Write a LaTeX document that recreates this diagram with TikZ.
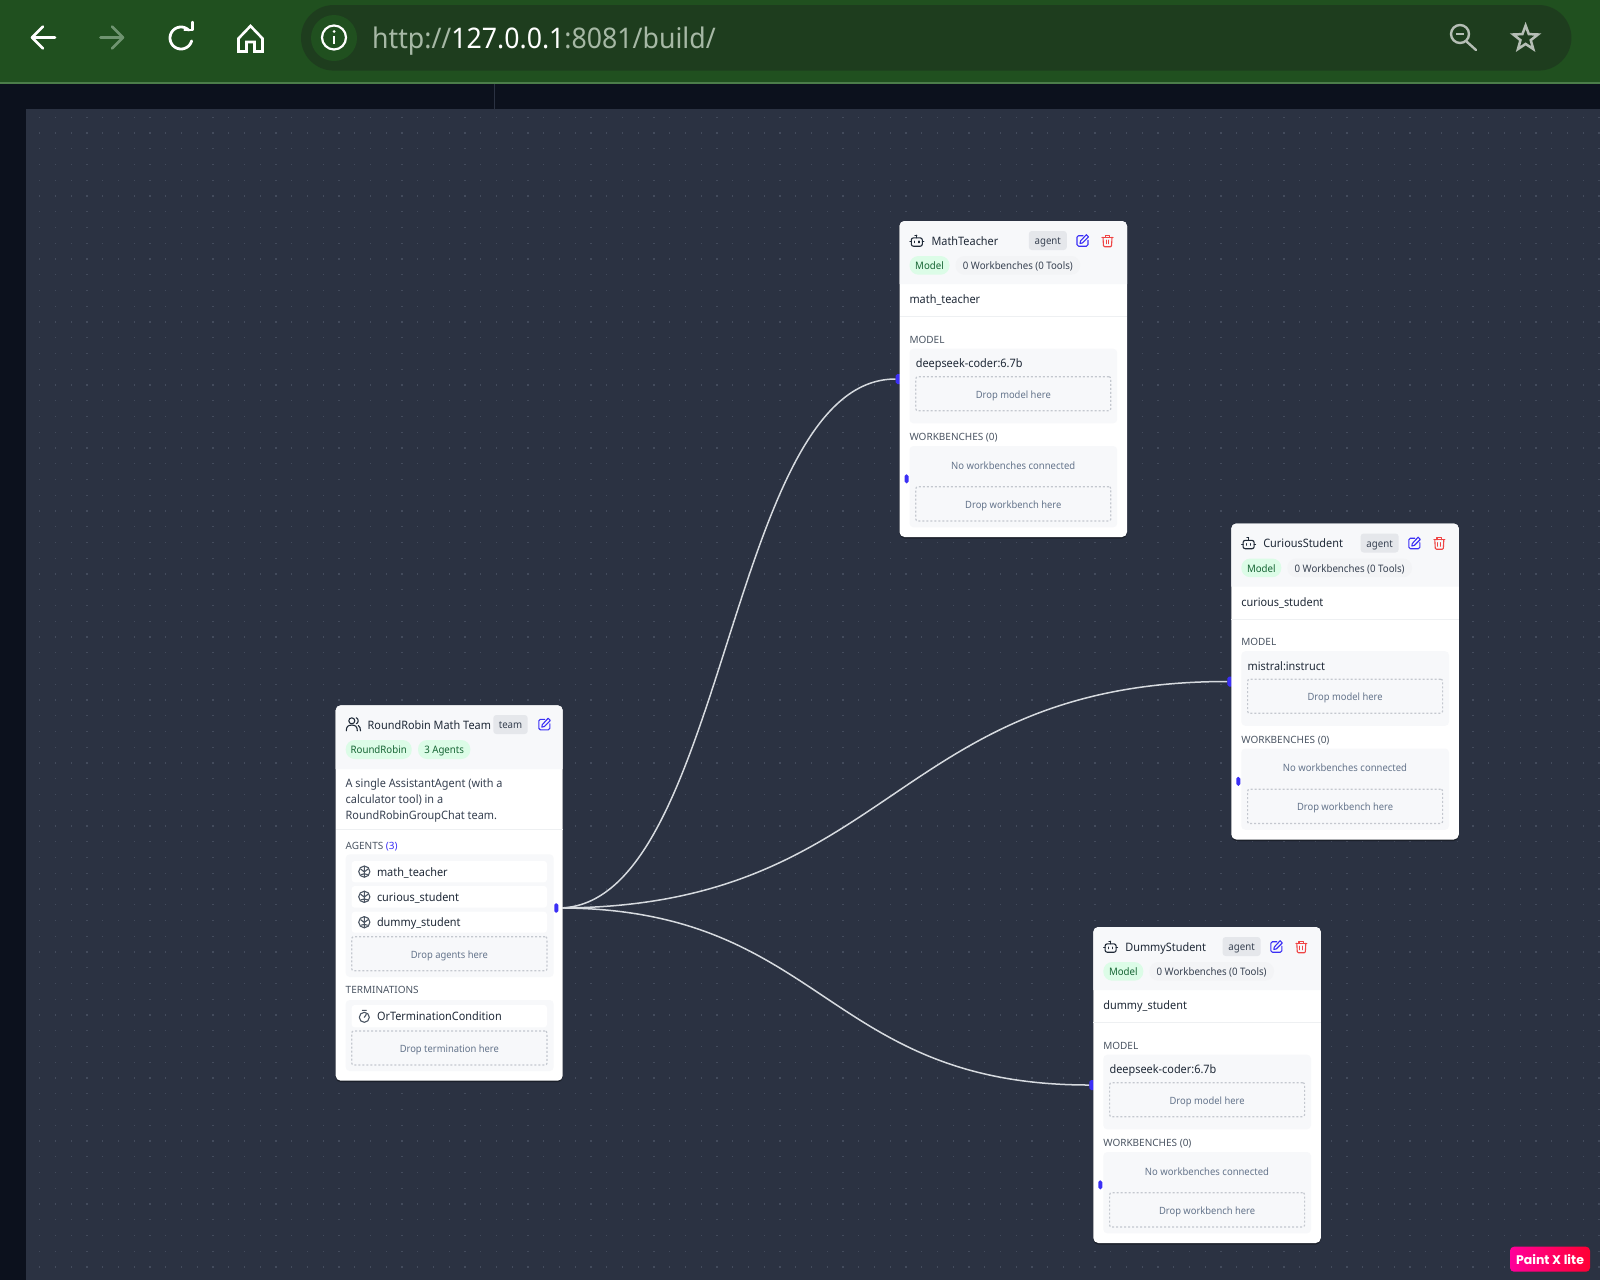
\documentclass[tikz,border=0pt]{standalone}
\usepackage{fontspec}
\setmainfont{Noto Sans}[FakeStretch=0.94]
\newfontfamily\secfont{Noto Sans}
\newfontfamily\pxfont{Poppins}
\usetikzlibrary{shapes.geometric}
\pgfdeclarelayer{bg}\pgfdeclarelayer{wires}\pgfsetlayers{bg,wires,main}
\definecolor{barG}{HTML}{20501F}
\definecolor{urlG}{HTML}{1E3D1E}
\definecolor{barLine}{HTML}{4C7D4A}
\definecolor{pageD}{HTML}{0C111D}
\definecolor{canvasC}{HTML}{2B3242}
\definecolor{dotC}{HTML}{434B5C}
\definecolor{hdrC}{HTML}{F7F8FA}
\definecolor{boxC}{HTML}{F7F8FA}
\definecolor{inkC}{HTML}{1F2937}
\definecolor{descC}{HTML}{374151}
\definecolor{secC}{HTML}{4B5563}
\definecolor{dropC}{HTML}{64748B}
\definecolor{dashC}{HTML}{C4C8CF}
\definecolor{sepC}{HTML}{EEF0F2}
\definecolor{badgeC}{HTML}{E5E7EB}
\definecolor{greenP}{HTML}{DCFCE7}
\definecolor{greenT}{HTML}{166534}
\definecolor{greyP}{HTML}{F3F4F6}
\definecolor{blueC}{HTML}{3B2FF5}
\definecolor{redC}{HTML}{EF4444}
\definecolor{urlT}{HTML}{A6B8A5}
\definecolor{fwdC}{HTML}{6F9470}
\definecolor{toolC}{HTML}{B5BEB5}
\definecolor{wireC}{HTML}{D6DADF}
\definecolor{pxL}{HTML}{FF009A}
\definecolor{pxR}{HTML}{FF0033}
\tikzset{
  panelbase/.style={anchor=north west,inner sep=0pt,outer sep=0pt},
  txt/.style={anchor=west,inner sep=0pt,outer sep=0pt,text=inkC,font=\fontsize{11.6}{14}\selectfont,text height=11pt,text depth=2pt},
  small/.style={txt,text=descC,font=\fontsize{10.1}{12}\selectfont,text height=10.4pt,text depth=2pt},
  sect/.style={txt,text=secC,font=\secfont\fontsize{10}{12}\selectfont,text height=9pt,text depth=2pt},
  centred/.style={text height=9.8pt,text depth=1pt},
  drop/.style={panelbase,centred,draw=dashC,line width=1.2pt,dash pattern=on 2pt off 2pt,rounded corners=2pt,text=dropC,font=\fontsize{10}{12}\selectfont},
  inbox/.style={panelbase,fill=boxC,rounded corners=4pt},
  item/.style={panelbase,fill=white,rounded corners=3pt},
  pill/.style={panelbase,centred,rounded corners=9pt,font=\fontsize{10.3}{12}\selectfont},
  gpill/.style={pill,fill=greenP,text=greenT},
  npill/.style={pill,fill=greyP,text=descC},
  badge/.style={panelbase,centred,fill=badgeC,rounded corners=3pt,text=descC,font=\fontsize{10.3}{12}\selectfont},
  cardbody/.style={panelbase,fill=white,rounded corners=5pt},
  handle/.style={panelbase,fill=blueC,rounded corners=1.8pt},
  wire/.style={draw=wireC,line width=1.5pt},
  icon/.style={line width=1.1pt,line cap=round,line join=round},
  chrome/.style={line width=2.8pt,line cap=round,line join=round}
}
\newcommand\panel[7][]{\node[panelbase,#1,minimum width={(#5-#3)*1pt},minimum height={(#6-#4)*1pt}] (#2) at (#3,#4) {#7};}
\newcommand\lbl[5][]{\node[txt,#1] (#2) at (#3,#4) {#5};}
\newcommand\icoRobot[2]{\begin{scope}[shift={(#1,#2)},icon,draw=inkC]
  \draw[rounded corners=2pt] (-5.5,-2.8) rectangle (5.5,5.5);
  \draw (0,-2.8)--(0,-5.5) (-1.8,-5.5)--(0,-5.5) (-7,1.2)--(-5.5,1.2) (5.5,1.2)--(7,1.2) (-2.2,0.4)--(-2.2,2) (2.2,0.4)--(2.2,2);
\end{scope}}
\newcommand\icoEdit[2]{\begin{scope}[shift={(#1,#2)},icon,draw=blueC]
  \draw[rounded corners=1.5pt] (0.5,-5)--(-5.5,-5)--(-5.5,5.5)--(5.5,5.5)--(5.5,-0.5);
  \draw (3.8,-6)--(6,-3.8)--(0,2.2)--(-2.5,2.8)--(-2,0.3)--cycle;
\end{scope}}
\newcommand\icoTrash[2]{\begin{scope}[shift={(#1,#2)},icon,draw=redC]
  \draw (-5.5,-3.5)--(5.5,-3.5) (-2.3,-3.5)--(-2.3,-5.5)--(2.3,-5.5)--(2.3,-3.5);
  \draw[rounded corners=1pt] (-4.5,-3.5)--(-4,6)--(4,6)--(4.5,-3.5);
  \draw (-1.4,-0.5)--(-1.4,3) (1.4,-0.5)--(1.4,3);
\end{scope}}
\newcommand\icoUsers[2]{\begin{scope}[shift={(#1,#2)},icon,draw=inkC]
  \draw (-1.5,-3.5) circle[radius=3pt];
  \draw (-7,6.5) .. controls (-7,2) and (-5,0.8) .. (-1.5,0.8) .. controls (2,0.8) and (4,2) .. (4,6.5);
  \draw (3,-6.5) .. controls (5.5,-5.5) and (5.5,-1.5) .. (3,-0.5) (5,1.2) .. controls (6.5,2) and (7.2,4) .. (7.2,6.5);
\end{scope}}
\newcommand\icoBrain[2]{\begin{scope}[shift={(#1,#2)},icon,draw=secC]
  \draw (0,0) circle[radius=5.6pt];
  \draw (0,-5.6)--(0,5.6) (-3.6,-2.5)--(0,0.3) (3.6,-2.5)--(0,0.3) (-3.2,3)--(0,2.2) (3.2,3)--(0,2.2);
\end{scope}}
\newcommand\icoTimer[2]{\begin{scope}[shift={(#1,#2)},icon,draw=secC]
  \draw (0,1) circle[radius=5pt];
  \draw (-2,-6)--(2,-6) (0,1)--(2,-2);
\end{scope}}
\newcommand\agentcard[6]{\begin{scope}[shift={(#2,#3)}]
  \panel[handle]{#1-in}{-4}{153}{3}{163}{}
  \fill[black,opacity=.35,rounded corners=5pt] (0,1.5) rectangle (227.5,317.5);
  \panel[cardbody]{#1}{0}{0}{227.5}{316}{}
  \fill[hdrC] (0,63) {[rounded corners=5pt] -- (0,0) -- (227.5,0)} -- (227.5,63) -- cycle;
  \icoRobot{17.3}{19.7}
  \lbl{#1-title}{32}{19.7}{#4}
  \panel[badge]{#1-kind}{129.3}{10}{167.3}{29}{agent}
  \icoEdit{183}{19.7}
  \icoTrash{208}{19.7}
  \panel[gpill]{#1-model-pill}{10}{35}{50}{53.7}{Model}
  \panel[npill]{#1-wb-pill}{56}{35}{180.7}{53.7}{0 Workbenches (0 Tools)}
  \lbl{#1-id}{10}{78.3}{#5}
  \fill[sepC] (0,95.2) rectangle (227.5,96.2);
  \lbl[sect]{#1-model-h}{10}{118.7}{MODEL}
  \panel[inbox]{#1-model-box}{10}{127.7}{217.7}{202.3}{}
  \lbl{#1-model-name}{16.3}{142.3}{#6}
  \panel[drop]{#1-model-drop}{16.3}{155.7}{211.3}{189.7}{Drop model here}
  \lbl[sect]{#1-wb-h}{10}{216}{WORKBENCHES (0)}
  \panel[inbox]{#1-wb-box}{10}{225}{217.7}{306.3}{}
  \node[small,anchor=center,text=dropC] (#1-wb-none) at (113.7,244) {No workbenches connected};
  \panel[drop]{#1-wb-drop}{16.3}{265.7}{211.3}{300}{Drop workbench here}
  \panel[handle]{#1-wb-in}{5}{253.3}{9}{262.3}{}
\end{scope}}
\begin{document}
\begin{tikzpicture}[x=1pt,y=-1pt]
\useasboundingbox (0,0) rectangle (1600,1280);
\begin{pgfonlayer}{bg}
  \fill[pageD] (0,0) rectangle (1600,1280);
  \fill[canvasC] (25.5,108.7) rectangle (1600,1280);
  \fill[canvasC] (493.6,84) rectangle (494.6,108.7);
  \foreach \i in {0,...,99}{\foreach \j in {0,...,74}{
    \fill[dotC] ({39.2+15.75*\i},{116.7+15.75*\j}) rectangle ++(1.2,1.2);}}
  \fill[barG] (0,0) rectangle (1600,82.5);
  \fill[barLine] (0,82.3) rectangle (1600,84);
\end{pgfonlayer}
% browser chrome
\panel[fill=urlG,rounded corners=32.8pt]{urlbar}{301}{5}{1571.4}{70.6}{}
\node[circle,fill=barG,minimum size=46pt,inner sep=0pt] (infobg) at (334,38) {};
\draw[white,line width=2.2pt] (334,37.5) circle[radius=12pt];
\fill[white] (334,31.5) circle[radius=1.5pt];
\draw[white,line width=2pt] (334,35.5)--(334,44);
\node[anchor=west,inner sep=0pt,font=\fontsize{28.4}{30}\selectfont,text=urlT,text height=26pt,text depth=6pt] (url) at (372,38) {http://\textcolor{white}{127.0.0.1}:8081/build/};
\draw[chrome,white] (55,37.5)--(32,37.5) (43,26.5)--(32,37.5)--(43,48.5);
\draw[chrome,fwdC] (100.5,37.5)--(123,37.5) (112,26.5)--(123,37.5)--(112,48.5);
\draw[chrome,white] plot[domain=15:315,samples=40] ({181+11*cos(\x)},{38+11*sin(\x)});
\draw[chrome,white,line width=2.4pt] (192.5,22)--(192.5,30)--(184.5,30);
\draw[white,line width=2.6pt,line join=miter] (250.5,26)--(262.5,38.5)--(262.5,51.5)--(254.5,51.5)--(254.5,42)--(246.5,42)--(246.5,51.5)--(238.5,51.5)--(238.5,38.5)--cycle;
\draw[toolC,line width=2.4pt] (1460,34) circle[radius=9pt];
\draw[toolC,line width=2.4pt,line cap=round] (1466.5,41.5)--(1476,50);
\draw[toolC,line width=2.4pt] (1456,34)--(1464,34);
\node[star,star points=5,star point ratio=2.4,draw=toolC,line width=2.5pt,minimum size=26pt,inner sep=0pt] (fav) at (1525.6,38.5) {};
% team card
\begin{scope}[shift={(335.7,705.3)}]
  \fill[black,opacity=.35,rounded corners=5pt] (0,1.5) rectangle (227,376.9);
  \panel[cardbody]{team}{0}{0}{227}{375.4}{}
  \fill[hdrC] (0,63.7) {[rounded corners=5pt] -- (0,0) -- (227,0)} -- (227,63.7) -- cycle;
  \icoUsers{17.6}{19}
  \lbl{team-title}{32}{19.7}{RoundRobin Math Team}
  \panel[badge]{team-kind}{157.6}{9.7}{192}{28.7}{team}
  \icoEdit{208.6}{19}
  \panel[gpill]{team-rr}{10}{34.7}{76}{53.7}{RoundRobin}
  \panel[gpill]{team-count}{82.3}{34.7}{134.6}{53.7}{3 Agents}
  \lbl[text=descC]{team-d1}{10}{78}{A single AssistantAgent (with a}
  \lbl[text=descC]{team-d2}{10}{93.7}{calculator tool) in a}
  \lbl[text=descC]{team-d3}{10}{109.7}{RoundRobinGroupChat team.}
  \fill[sepC] (0,124) rectangle (227,125);
  \lbl[sect]{team-agents-h}{10}{140.4}{AGENTS \textcolor{blueC}{(3)}}
  \panel[inbox]{team-agents}{10}{149}{218}{271.7}{}
  \panel[item]{team-a1}{16}{155.7}{211.3}{177}{}
  \icoBrain{28.6}{166.3}
  \lbl{team-a1-t}{41.3}{166.3}{math\_teacher}
  \panel[item]{team-a2}{16}{180.7}{211.3}{202.4}{}
  \icoBrain{28.6}{191.5}
  \lbl{team-a2-t}{41.3}{191.5}{curious\_student}
  \panel[item]{team-a3}{16}{206.4}{211.3}{227.4}{}
  \icoBrain{28.6}{216.9}
  \lbl{team-a3-t}{41.3}{216.9}{dummy\_student}
  \panel[drop]{team-a-drop}{16}{231.4}{211.3}{265.4}{Drop agents here}
  \lbl[sect]{team-term-h}{10}{285}{TERMINATIONS}
  \panel[inbox]{team-term}{10}{294.7}{218}{365.7}{}
  \panel[item]{team-t1}{16}{299.7}{211.3}{322}{}
  \icoTimer{28.6}{311}
  \lbl{team-t1-t}{41.3}{311}{OrTerminationCondition}
  \panel[drop]{team-t-drop}{16}{325.7}{211.3}{359.7}{Drop termination here}
  \panel[handle,rounded corners=1.5pt]{team-out}{218.6}{198}{222.6}{207.3}{}
\end{scope}
\agentcard{math}{899.5}{221}{MathTeacher}{math\_teacher}{deepseek-coder:6.7b}
\agentcard{curious}{1231.3}{523.5}{CuriousStudent}{curious\_student}{mistral:instruct}
\agentcard{dummy}{1093.3}{927}{DummyStudent}{dummy\_student}{deepseek-coder:6.7b}
\panel[left color=pxL,right color=pxR,rounded corners=4pt,text=white,font=\pxfont\bfseries\fontsize{12.5}{14}\selectfont]{paintx}{1510}{1246.7}{1590}{1271.7}{Paint X lite}
\begin{pgfonlayer}{wires}
  \draw[wire] (team-out.east) .. controls +(168.6,0) and +(-168.6,0) .. (math-in.west);
  \draw[wire] (team-out.east) .. controls +(334.5,0) and +(-334.5,0) .. (curious-in.west);
  \draw[wire] (team-out.east) .. controls +(265.5,0) and +(-265.5,0) .. (dummy-in.west);
\end{pgfonlayer}
\end{tikzpicture}
\end{document}
